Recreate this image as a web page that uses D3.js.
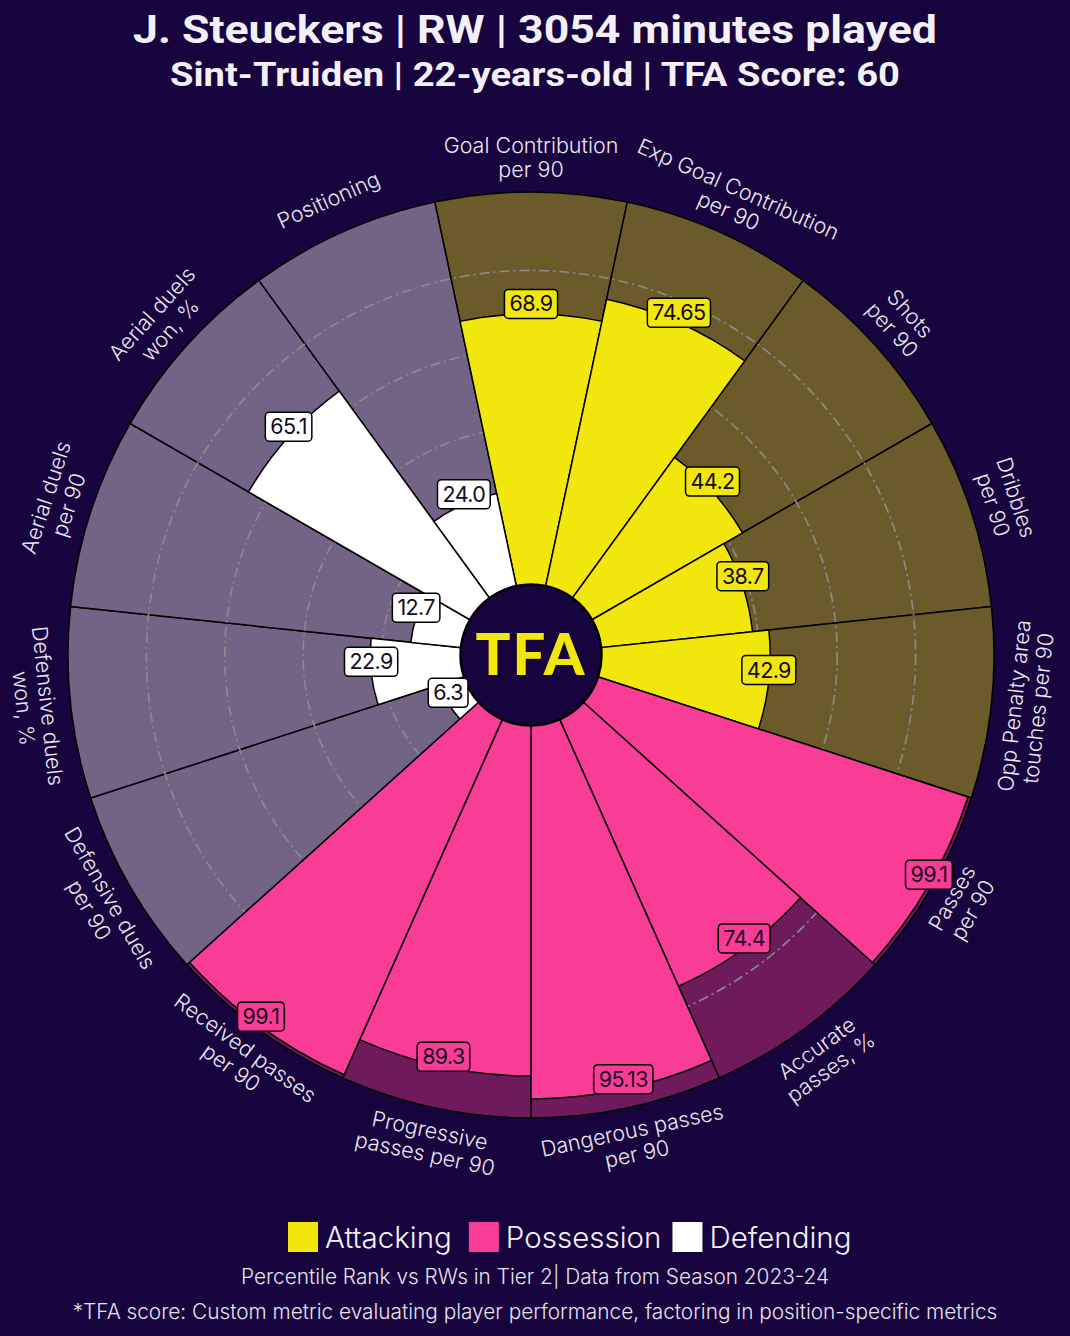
<!DOCTYPE html>
<html>
<head>
<meta charset="utf-8">
<script src="https://cdn.jsdelivr.net/npm/d3@7"></script>
<style>
  html, body { margin: 0; padding: 0; background: #17033d; }
  svg { display: block; }
</style>
</head>
<body>
<svg id="chart" width="1070" height="1336"></svg>
<script>
// ---------------- DATA ----------------
const categories = [
  "Goal Contribution\nper 90", "Exp Goal Contribution\nper 90", "Shots\nper 90", "Dribbles\nper 90",
  "Opp Penalty area\ntouches per 90", "Passes\nper 90", "Accurate\npasses, %", "Dangerous passes\nper 90",
  "Progressive\npasses per 90", "Received passes\nper 90", "Defensive duels\nper 90", "Defensive duels\nwon, %",
  "Aerial duels\nper 90", "Aerial duels\nwon, %", "Positioning"
];
const values = [68.9, 74.65, 44.2, 38.7, 42.9, 99.1, 74.4, 95.13, 89.3, 99.1, 6.3, 22.9, 12.7, 65.1, 24.0];
const valueLabels = ["68.9", "74.65", "44.2", "38.7", "42.9", "99.1", "74.4", "95.13", "89.3", "99.1", "6.3", "22.9", "12.7", "65.1", "24.0"];
const groups = ["Attacking", "Attacking", "Attacking", "Attacking", "Attacking",
  "Possession", "Possession", "Possession", "Possession", "Possession",
  "Defending", "Defending", "Defending", "Defending", "Defending"];
const groupNames = ["Attacking", "Possession", "Defending"];
const gridTicks = [20, 40, 60, 80];
const titleText = "J. Steuckers | RW | 3054 minutes played";
const subtitleText = "Sint-Truiden | 22-years-old | TFA Score: 60";
const footer1 = "Percentile Rank vs RWs in Tier 2| Data from Season 2023-24";
const footer2 = "*TFA score: Custom metric evaluating player performance, factoring in position-specific metrics";

// ---------------- STYLE ----------------
const BG = "#17033d";
const fillColor = d3.scaleOrdinal().domain(groupNames).range(["#f2e70c", "#f93d96", "#ffffff"]);
const bgColor = d3.scaleOrdinal().domain(groupNames).range(["#6b5b2a", "#6f1a5c", "#736486"]);
const labelFont = "Inter, 'Noto Sans', sans-serif";
const titleFont = "Roboto, Inter, sans-serif";

const W = 1070, H = 1336;
const cx = 531, cy = 655;
const innerR = 71, outerR = 463;

const svg = d3.select("#chart");
svg.append("rect").attr("width", W).attr("height", H).attr("fill", BG);

const r = d3.scaleLinear().domain([0, 100]).range([innerR, outerR]);
const n = categories.length;
const angle = d3.scaleLinear().domain([0, n]).range([0, 2 * Math.PI]);
const half = Math.PI / n;
const deg = a => a * 180 / Math.PI;

const g = svg.append("g").attr("transform", `translate(${cx},${cy})`);

const data = categories.map((c, i) => ({
  cat: c, value: values[i], label: valueLabels[i], group: groups[i],
  a0: angle(i) - half, a1: angle(i) + half, mid: angle(i)
}));

// background slices
g.selectAll("path.bg").data(data).join("path")
  .attr("class", "bg")
  .attr("d", d => d3.arc()({innerRadius: innerR, outerRadius: r(100), startAngle: d.a0, endAngle: d.a1}))
  .attr("fill", d => bgColor(d.group))
  .attr("stroke", "#000").attr("stroke-width", 1.5);

// grid circles
g.selectAll("circle.grid").data(gridTicks).join("circle")
  .attr("class", "grid")
  .attr("r", d => r(d))
  .attr("fill", "none")
  .attr("stroke", "#8c8c8c")
  .attr("stroke-width", 1.6)
  .attr("stroke-dasharray", "10,4,2,4");

// value slices
g.selectAll("path.val").data(data).join("path")
  .attr("class", "val")
  .attr("d", d => d3.arc()({innerRadius: innerR, outerRadius: r(d.value), startAngle: d.a0, endAngle: d.a1}))
  .attr("fill", d => fillColor(d.group))
  .attr("stroke", "#000").attr("stroke-width", 1.5);

// inner circle
g.append("circle").attr("r", innerR - 1).attr("fill", BG).attr("stroke", "#000").attr("stroke-width", 1.5);
g.append("text").text("TFA")
  .attr("x", 0).attr("y", 20)
  .attr("text-anchor", "middle")
  .attr("font-family", "Lato, Inter, sans-serif")
  .attr("font-weight", 900)
  .attr("font-size", 58)
  .attr("letter-spacing", 2)
  .attr("fill", "#f2e70c");

// value labels
const vl = g.selectAll("g.vlab").data(data).join("g")
  .attr("class", "vlab")
  .attr("transform", d => {
    const rr = r(d.value);
    const x = rr * Math.sin(d.mid), y = -rr * Math.cos(d.mid) - 10;
    return `translate(${x},${y})`;
  });
vl.each(function(d) {
  const s = d3.select(this);
  const t = s.append("text").text(d.label)
    .attr("text-anchor", "middle").attr("dy", "0.35em")
    .attr("font-family", labelFont).attr("font-size", 21.5)
    .attr("letter-spacing", -0.6)
    .attr("fill", "#140a22");
  const w = t.node().getComputedTextLength();
  s.insert("rect", "text")
    .attr("x", -w / 2 - 5).attr("y", -14.5).attr("width", w + 10).attr("height", 29)
    .attr("rx", 4).attr("fill", fillColor(d.group))
    .attr("stroke", "#000").attr("stroke-width", 1.5);
});

// category labels
const labR = 498;
const cl = g.selectAll("text.cat").data(data).join("text")
  .attr("class", "cat")
  .attr("font-family", labelFont).attr("font-size", 21.5).attr("font-weight", 300)
  .attr("fill", "#ece6f2")
  .attr("text-anchor", "middle")
  .attr("transform", d => {
    const x = labR * Math.sin(d.mid), y = -labR * Math.cos(d.mid);
    let rot = deg(d.mid);
    if (rot > 90 && rot < 270) rot -= 180;
    else if (rot >= 270) rot -= 360;
    return `translate(${x},${y}) rotate(${rot})`;
  });
cl.each(function(d) {
  const lines = d.cat.split("\n");
  const lh = 24;
  const s = d3.select(this);
  lines.forEach((ln, k) => {
    s.append("tspan").attr("x", 0)
      .attr("y", (k - (lines.length - 1) / 2) * lh)
      .attr("dy", "0.35em")
      .text(ln);
  });
});

// titles
svg.append("text").text(titleText)
  .attr("x", 535).attr("y", 43).attr("text-anchor", "middle")
  .attr("font-family", titleFont).attr("font-weight", 700).attr("font-size", 39)
  .attr("textLength", 804).attr("lengthAdjust", "spacingAndGlyphs")
  .attr("fill", "#f4f0f8");
svg.append("text").text(subtitleText)
  .attr("x", 535).attr("y", 86).attr("text-anchor", "middle")
  .attr("font-family", titleFont).attr("font-weight", 700).attr("font-size", 33)
  .attr("textLength", 730).attr("lengthAdjust", "spacingAndGlyphs")
  .attr("fill", "#f4f0f8");

// legend
const leg = svg.append("g");
let lx = 288;
const legGap = [17, 11, 0];
groupNames.forEach((name, i) => {
  leg.append("rect").attr("x", lx).attr("y", 1222).attr("width", 30).attr("height", 30)
    .attr("fill", fillColor(name));
  const t = leg.append("text").text(name)
    .attr("x", lx + 37).attr("y", 1248)
    .attr("font-family", labelFont).attr("font-size", 29.5).attr("font-weight", 300)
    .attr("fill", "#f4f0f8");
  const w = t.node().getComputedTextLength();
  lx = lx + 37 + w + legGap[i];
});

// footers
svg.append("text").text(footer1)
  .attr("x", 535).attr("y", 1284).attr("text-anchor", "middle")
  .attr("font-family", labelFont).attr("font-size", 20.8).attr("font-weight", 300)
  .attr("fill", "#e8e2ee");
svg.append("text").text(footer2)
  .attr("x", 535).attr("y", 1319).attr("text-anchor", "middle")
  .attr("font-family", labelFont).attr("font-size", 20.8).attr("font-weight", 300)
  .attr("fill", "#e8e2ee");
</script>
</body>
</html>
